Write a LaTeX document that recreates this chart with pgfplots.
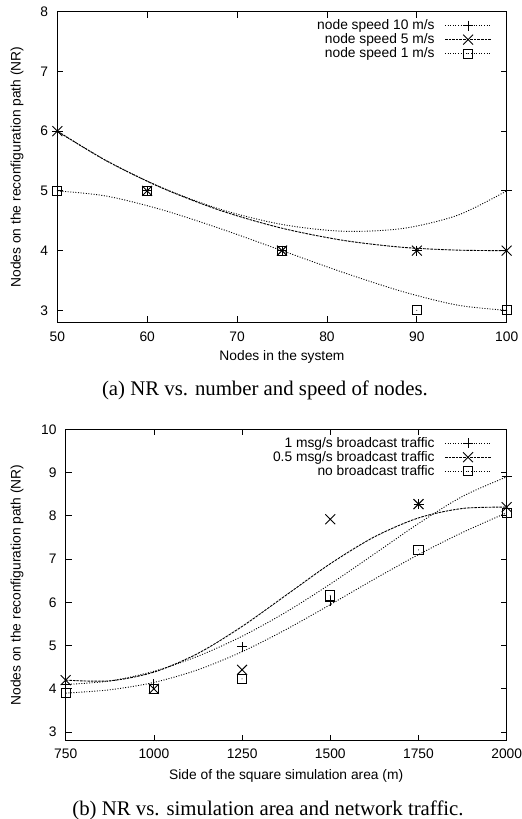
\documentclass[border=0pt]{standalone}
\usepackage{fontspec}
\setmainfont{Liberation Serif}
\newfontfamily\helv{Liberation Sans}
\usepackage{pgfplots}
\pgfplotsset{compat=1.18}

% gnuplot style box point with a dot in the middle
\pgfdeclareplotmark{sqdot}{%
  \pgfpathrectangle{\pgfpoint{-\pgfplotmarksize}{-\pgfplotmarksize}}{\pgfpoint{2\pgfplotmarksize}{2\pgfplotmarksize}}%
  \pgfusepathqstroke
  \pgfpathcircle{\pgfpointorigin}{0.5bp}%
  \pgfusepathqfill}

\pgfplotsset{
  gp/.style={
    scale only axis, clip=false,
    font=\helv\fontsize{13.8bp}{14bp}\selectfont,
    /pgf/number format/assume math mode=true,
    /pgf/number format/1000 sep={},
    axis line style={line width=1bp},
    tick style={line width=0.8bp, black},
    tick align=inside,
    major tick length=6bp,
    xtick pos=both, ytick pos=both,
    yticklabel style={inner sep=0pt, xshift=-9bp},
    xticklabel style={anchor=base, inner sep=0pt, yshift=-19.5bp},
    xlabel style={at={(axis description cs:0.5,0)}, anchor=base},
    legend style={draw=none, fill=none, at={(rel axis cs:1,1)}, anchor=north east,
      xshift=-12bp, yshift=-4bp, row sep=-1.5bp,
      font=\helv\fontsize{13.8bp}{14bp}\selectfont, cells={anchor=east}},
    legend plot pos=right,
    legend image code/.code={\path (0bp,0bp); \draw[mark repeat=2,mark phase=2,#1] plot coordinates {(8bp,0bp)(31bp,0bp)(54bp,0bp)};},
  },
  dotl/.style={black, line width=0.9bp, dash pattern=on 1bp off 1.6bp},
  dashl/.style={black, line width=0.9bp, dash pattern=on 2.6bp off 1bp},
  mplus/.style={mark=+, mark size=5bp, mark options={solid, line width=0.9bp}},
  mcross/.style={mark=x, mark size=7bp, mark options={solid, line width=0.9bp}},
  mbox/.style={mark=sqdot, mark size=4.6bp, mark options={solid, line width=0.9bp}},
}

\begin{document}
\begin{tikzpicture}
\path[use as bounding box] (0,0) rectangle (522bp,819bp);

% (a)
\begin{axis}[gp, at={(57.3bp,496.7bp)}, anchor=south west,
  width=449.4bp, height=310.6bp,
  xmin=50, xmax=100, ymin=2.8, ymax=8,
  xtick={50,60,70,80,90,100}, ytick={3,4,5,6,7,8},
  xlabel={Nodes in the system},
  xlabel style={yshift=-38.2bp},
  ylabel={Nodes on the reconfiguration path (NR)},
  ylabel style={at={(axis description cs:-0.0897,0.5)}, anchor=center},
]
\addlegendimage{dotl, mplus}\addlegendentry{node speed 10 m/s}
\addlegendimage{dashl, mcross}\addlegendentry{node speed 5 m/s}
\addlegendimage{dotl, mbox}\addlegendentry{node speed 1 m/s}

\addplot[dotl, smooth, forget plot] coordinates {
  (50,6) (55.43,5.508) (61.56,5.059) (68.16,4.691) (75,4.438)
  (81.84,4.324) (88.44,4.371) (94.57,4.594) (100,5)};
\addplot[dashl, smooth, forget plot] coordinates {
  (50,6) (55.43,5.507) (61.56,5.055) (68.16,4.671) (75,4.375)
  (81.84,4.171) (88.44,4.055) (94.57,4.008) (100,4)};
\addplot[dotl, smooth, forget plot] coordinates {
  (50,5) (55.43,4.914) (61.56,4.688) (68.16,4.367) (75,4.0)
  (81.84,3.633) (88.44,3.313) (94.57,3.086) (100,3)};

\addplot[only marks, mplus, forget plot] coordinates {(50,6) (60,5) (75,4) (90,4) (100,5)};
\addplot[only marks, mcross, forget plot] coordinates {(50,6) (60,5) (75,4) (90,4) (100,4)};
\addplot[only marks, mbox, forget plot] coordinates {(50,5) (60,5) (75,4) (90,3) (100,3)};
\end{axis}

% (b)
\begin{axis}[gp, at={(65.7bp,78.3bp)}, anchor=south west,
  width=441bp, height=311.4bp,
  xmin=750, xmax=2000, ymin=2.8, ymax=10,
  xtick={750,1000,1250,1500,1750,2000}, ytick={3,4,5,6,7,8,9,10},
  xticklabel style={yshift=2bp},
  xlabel={Side of the square simulation area (m)},
  xlabel style={yshift=-39.3bp},
  ylabel={Nodes on the reconfiguration path (NR)},
  ylabel style={at={(axis description cs:-0.1104,0.5)}, anchor=center},
]
\addlegendimage{dotl, mplus}\addlegendentry{1 msg/s broadcast traffic}
\addlegendimage{dashl, mcross}\addlegendentry{0.5 msg/s broadcast traffic}
\addlegendimage{dotl, mbox}\addlegendentry{no broadcast traffic}

\addplot[dotl, smooth, forget plot] coordinates {
  (750,4.1) (875,4.181) (1000,4.405) (1125,4.754) (1250,5.215) (1375,5.777)
  (1500,6.422) (1625,7.119) (1750,7.821) (1875,8.450) (2000,8.9)};
\addplot[dashl, smooth, forget plot] coordinates {
  (750,4.2) (875,4.184) (1000,4.385) (1125,4.819) (1250,5.442) (1375,6.167)
  (1500,6.892) (1625,7.513) (1750,7.951) (1875,8.170) (2000,8.2)};
\addplot[dotl, smooth, forget plot] coordinates {
  (750,3.9) (875,3.977) (1000,4.147) (1125,4.441) (1250,4.858) (1375,5.373)
  (1500,5.947) (1625,6.537) (1750,7.103) (1875,7.616) (2000,8.07)};

\addplot[only marks, mplus, forget plot] coordinates {(750,4.1) (1000,4.1) (1250,4.97) (1500,6.03) (1750,8.27) (2000,8.9)};
\addplot[only marks, mcross, forget plot] coordinates {(750,4.2) (1000,4.0) (1250,4.44) (1500,7.92) (1750,8.27) (2000,8.2)};
\addplot[only marks, mbox, forget plot] coordinates {(750,3.9) (1000,4.0) (1250,4.23) (1500,6.16) (1750,7.21) (2000,8.07)};
\end{axis}

\node[anchor=base, font=\fontsize{20.8bp}{21bp}\selectfont] at (264.9bp,423bp) {(a) NR vs. number and speed of nodes.};
\node[anchor=base, font=\fontsize{20.8bp}{21bp}\selectfont] at (268bp,4bp) {(b) NR vs. simulation area and network traffic.};
\end{tikzpicture}
\end{document}
